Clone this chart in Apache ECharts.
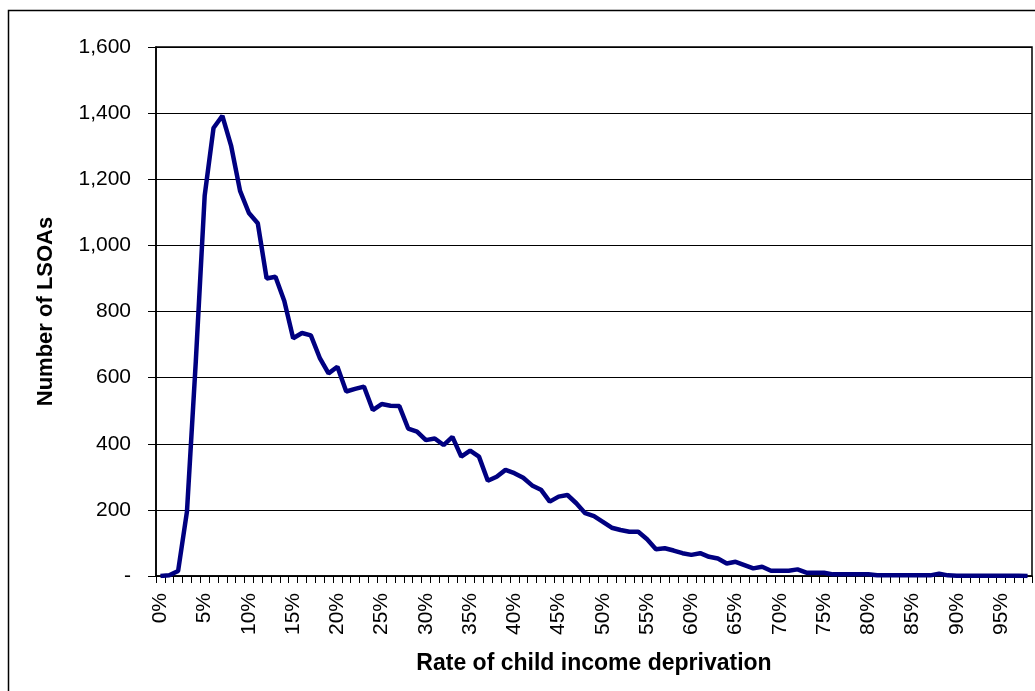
<!DOCTYPE html>
<html>
<head>
<meta charset="utf-8">
<script src="https://cdn.jsdelivr.net/npm/echarts@6/dist/echarts.min.js"></script>
<style>
  html, body { margin: 0; padding: 0; background: #fff; }
  #chart { width: 1035px; height: 691px; }
</style>
</head>
<body>
<div id="chart"></div>
<script>
// deprivation rate categories, 0% .. 98%
const rates = [];
for (let i = 0; i <= 98; i++) rates.push(i + "%");

// number of LSOAs at each rate
const lsoaCounts = [
  0, 2, 15, 195, 650, 1150, 1355, 1392, 1300, 1165,
  1098, 1067, 900, 905, 832, 719, 735, 728, 660, 613,
  633, 558, 566, 573, 502, 520, 515, 514, 446, 437,
  411, 416, 396, 421, 361, 379, 361, 288, 300, 321,
  311, 297, 274, 261, 225, 240, 245, 220, 190, 181,
  164, 146, 139, 134, 134, 111, 81, 84, 77, 69,
  64, 69, 58, 53, 38, 43, 33, 23, 28, 16,
  16, 16, 20, 10, 10, 10, 5, 5, 5, 5,
  5, 2, 2, 2, 2, 2, 2, 2, 7, 2,
  1, 1, 1, 1, 1, 1, 1, 1, 0
];

const yTicks = [0, 200, 400, 600, 800, 1000, 1200, 1400, 1600];

const chart = echarts.init(document.getElementById("chart"));
const font = "'Liberation Sans', Arial, sans-serif";

const option = {
  animation: false,
  backgroundColor: "#fff",
  textStyle: { fontFamily: font },
  graphic: [{
    type: "rect",
    shape: { x: 8.5, y: 10.5, width: 1100, height: 1000 },
    style: { fill: null, stroke: "#000", lineWidth: 1.5 },
    silent: true
  }],
  grid: {
    left: 156, right: 3, top: 47, bottom: 115,
    show: true, borderColor: "#000", borderWidth: 1.5,
    containLabel: false
  },
  xAxis: {
    type: "category",
    data: rates,
    boundaryGap: true,
    name: "Rate of child income deprivation",
    nameLocation: "middle",
    nameGap: 76,
    nameTextStyle: { fontSize: 23, fontWeight: "bold", color: "#000", fontFamily: font },
    axisLine: { lineStyle: { color: "#000", width: 1.5 } },
    axisTick: { show: true, length: 7, interval: 0, lineStyle: { color: "#000" } },
    axisLabel: {
      interval: 4, rotate: 90, margin: 17,
      fontSize: 21, color: "#000", fontFamily: font
    },
    splitLine: { show: false }
  },
  yAxis: {
    type: "value",
    min: yTicks[0], max: yTicks[yTicks.length - 1], interval: 200,
    name: "Number of LSOAs",
    nameLocation: "middle",
    nameGap: 99,
    nameTextStyle: { fontSize: 22, fontWeight: "bold", color: "#000", fontFamily: font },
    axisLine: { show: true, lineStyle: { color: "#000", width: 1.5 } },
    axisTick: { show: true, length: 8, lineStyle: { color: "#000" } },
    axisLabel: {
      margin: 25, fontSize: 21, color: "#000", fontFamily: font,
      formatter: v => v === 0 ? "-" : v.toLocaleString("en-US")
    },
    splitLine: { show: true, lineStyle: { color: "#000", width: 1 } }
  },
  series: [{
    type: "line",
    data: lsoaCounts,
    showSymbol: false,
    smooth: false,
    lineStyle: { color: "#000080", width: 4.5 },
    itemStyle: { color: "#000080" }
  }]
};

chart.setOption(option);
</script>
</body>
</html>
